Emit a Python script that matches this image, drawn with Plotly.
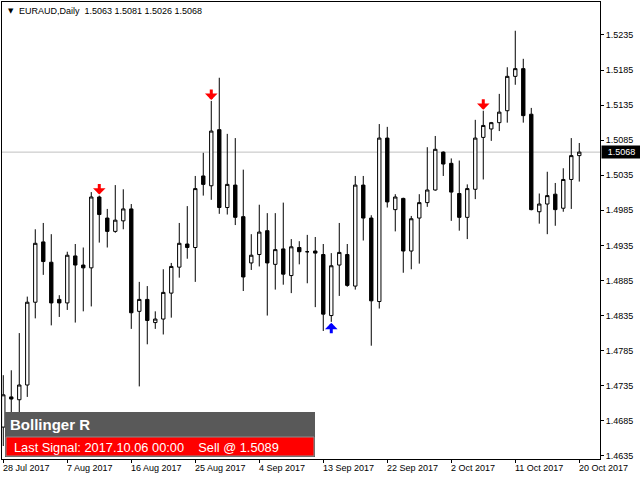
import plotly.graph_objects as go

# ---------------- data ----------------
tick_bars = [0, 8, 16, 24, 32, 40, 48, 56, 64, 72]
tick_labels = ["28 Jul 2017", "7 Aug 2017", "16 Aug 2017", "25 Aug 2017", "4 Sep 2017",
               "13 Sep 2017", "22 Sep 2017", "2 Oct 2017", "11 Oct 2017", "20 Oct 2017"]

opens = [1.4676, 1.4719, 1.4715, 1.4736, 1.4854, 1.4940, 1.4911, 1.4858, 1.4853, 1.4920,
         1.4907, 1.4903, 1.5004, 1.4974, 1.4955, 1.4970, 1.4987, 1.4841, 1.4858, 1.4825,
         1.4830, 1.4867, 1.4904, 1.4937, 1.4932, 1.5034, 1.5020, 1.5100, 1.4989, 1.5021,
         1.4976, 1.4910, 1.4922, 1.4956, 1.4908, 1.4930, 1.4892, 1.4932, 1.4926, 1.4927,
         1.4922, 1.4835, 1.4907, 1.4922, 1.4877, 1.5021, 1.4974, 1.4855, 1.5088, 1.4986,
         1.5002, 1.4927, 1.4974, 1.4996, 1.5014, 1.5068, 1.5052, 1.5009, 1.4975, 1.5015,
         1.5089, 1.5101, 1.5110, 1.5127, 1.5176, 1.5187, 1.5122, 1.4983, 1.4994, 1.5008,
         1.4988, 1.5029, 1.5063]
highs = [1.4750, 1.4757, 1.4810, 1.4862, 1.4958, 1.4967, 1.4951, 1.4864, 1.4926, 1.4937,
         1.4932, 1.5011, 1.5006, 1.4987, 1.5021, 1.5015, 1.4994, 1.4883, 1.4877, 1.4841,
         1.4901, 1.4910, 1.4967, 1.4991, 1.5034, 1.5067, 1.5141, 1.5174, 1.5094, 1.5088,
         1.5043, 1.4951, 1.4993, 1.4981, 1.4981, 1.4996, 1.4944, 1.4941, 1.4950, 1.4947,
         1.4937, 1.4924, 1.4967, 1.4937, 1.5034, 1.5034, 1.4978, 1.5108, 1.5104, 1.5008,
         1.5003, 1.4977, 1.5008, 1.5075, 1.5091, 1.5069, 1.5059, 1.5056, 1.5022, 1.5114,
         1.5127, 1.5111, 1.5151, 1.5189, 1.5241, 1.5201, 1.5131, 1.5009, 1.5040, 1.5024,
         1.5045, 1.5088, 1.5081]
lows = [1.4649, 1.4679, 1.4693, 1.4719, 1.4831, 1.4893, 1.4821, 1.4833, 1.4843, 1.4825,
        1.4841, 1.4848, 1.4939, 1.4932, 1.4953, 1.4958, 1.4816, 1.4734, 1.4794, 1.4816,
        1.4808, 1.4832, 1.4889, 1.4916, 1.4883, 1.5006, 1.5000, 1.4980, 1.4979, 1.4964,
        1.4870, 1.4900, 1.4905, 1.4835, 1.4872, 1.4879, 1.4867, 1.4908, 1.4881, 1.4847,
        1.4813, 1.4826, 1.4863, 1.4876, 1.4872, 1.4942, 1.4792, 1.4845, 1.4989, 1.4955,
        1.4896, 1.4901, 1.4909, 1.4990, 1.5013, 1.5034, 1.4970, 1.4956, 1.4944, 1.5001,
        1.5029, 1.5084, 1.5098, 1.5110, 1.5164, 1.5110, 1.4985, 1.4966, 1.4951, 1.4963,
        1.4983, 1.4987, 1.5026]
closes = [1.4722, 1.4716, 1.4736, 1.4854, 1.4938, 1.4912, 1.4853, 1.4853, 1.4921, 1.4907,
          1.4903, 1.5004, 1.4979, 1.4955, 1.4971, 1.4987, 1.4839, 1.4858, 1.4828, 1.4830,
          1.4868, 1.4905, 1.4938, 1.4932, 1.5016, 1.5022, 1.5098, 1.4989, 1.5022, 1.4975,
          1.4890, 1.4921, 1.4954, 1.4910, 1.4929, 1.4894, 1.4933, 1.4926, 1.4926, 1.4924,
          1.4837, 1.4906, 1.4925, 1.4878, 1.5021, 1.4974, 1.4856, 1.5088, 1.4997, 1.5004,
          1.4927, 1.4973, 1.4996, 1.5014, 1.5072, 1.5051, 1.5011, 1.4975, 1.5016, 1.5088,
          1.5106, 1.5110, 1.5125, 1.5176, 1.5187, 1.5120, 1.4986, 1.4994, 1.5006, 1.4986,
          1.5029, 1.5063, 1.5068]

signal_bars = [12, 26, 41, 60]
signal_kind = ["sell", "sell", "buy", "sell"]

y_ticks = [1.4635, 1.4685, 1.4735, 1.4785, 1.4835, 1.4885, 1.4935,
           1.4985, 1.5035, 1.5085, 1.5135, 1.5185, 1.5235]
y_range = [1.46305, 1.52820]
x_range = [-0.16, 74.59]

symbol_title = "EURAUD,Daily"
last_price = 1.5068
panel_title = "Bollinger R"
panel_signal = "Last Signal: 2017.10.06 00:00&nbsp;&nbsp;&nbsp;&nbsp;Sell @ 1.5089"

# ---------------- layout helpers ----------------
W, H = 640, 480
ML, MR, MT, MB = 2, 40, 2, 21
PW, PH = W - ML - MR, H - MT - MB


def px_x(p):
    return (p - ML) / PW


def px_y(p):
    return (H - MB - p) / PH


FONT = "Liberation Sans, Arial, sans-serif"

x_idx = list(range(len(opens)))

fig = go.Figure(go.Candlestick(
    x=x_idx, open=opens, high=highs, low=lows, close=closes,
    increasing=dict(line=dict(color="black", width=1), fillcolor="white"),
    decreasing=dict(line=dict(color="black", width=1), fillcolor="black"),
    whiskerwidth=0, showlegend=False,
))

annotations = []
# date labels, left-aligned at their tick like MT4
for b, t in zip(tick_bars, tick_labels):
    annotations.append(dict(x=b, y=0, xref="x", yref="paper", text=t, showarrow=False,
                            xanchor="left", yanchor="top", yshift=-2, xshift=-2,
                            font=dict(family=FONT, size=9, color="black")))

# title
ohlc_last = "%.4f %.4f %.4f %.4f" % (opens[-1], highs[-1], lows[-1], closes[-1])
annotations.append(dict(x=px_x(6), y=px_y(11), xref="paper", yref="paper", text="▼",
                        showarrow=False, xanchor="left", yanchor="middle",
                        font=dict(family="DejaVu Sans", size=7, color="black")))
annotations.append(dict(x=px_x(17), y=px_y(11), xref="paper", yref="paper",
                        text=symbol_title + "&nbsp;&nbsp;" + ohlc_last,
                        showarrow=False, xanchor="left", yanchor="middle",
                        font=dict(family=FONT, size=9, color="black")))

# signal arrows
for b, k in zip(signal_bars, signal_kind):
    if k == "sell":
        annotations.append(dict(x=b, y=highs[b], xref="x", yref="y", text="", showarrow=True,
                                ax=0, ay=-13, arrowhead=1, arrowsize=0.7, arrowwidth=3,
                                arrowcolor="#ff0000", standoff=1))
    else:
        annotations.append(dict(x=b, y=lows[b], xref="x", yref="y", text="", showarrow=True,
                                ax=0, ay=13, arrowhead=1, arrowsize=0.7, arrowwidth=3,
                                arrowcolor="#0000ff", standoff=1))

# current price label
annotations.append(dict(x=1, y=last_price, xref="paper", yref="y", text="%.4f" % last_price,
                        showarrow=False, xanchor="left", yanchor="middle", xshift=1,
                        bgcolor="black", borderpad=1, width=37, align="center",
                        font=dict(family=FONT, size=9, color="white")))

# panel texts
annotations.append(dict(x=px_x(8), y=px_y(424), xref="paper", yref="paper", text="<b>" + panel_title + "</b>",
                        showarrow=False, xanchor="left", yanchor="middle",
                        font=dict(family=FONT, size=15, color="white")))
annotations.append(dict(x=px_x(12), y=px_y(447), xref="paper", yref="paper", text=panel_signal,
                        showarrow=False, xanchor="left", yanchor="middle",
                        font=dict(family=FONT, size=12.8, color="white")))

shapes = [
    dict(type="line", xref="paper", yref="y", x0=0, x1=1, y0=last_price, y1=last_price,
         line=dict(color="#c0c0c0", width=1), layer="below"),
    dict(type="rect", xref="paper", yref="paper", x0=px_x(5), x1=px_x(315), y0=px_y(457), y1=px_y(412),
         fillcolor="#595959", line=dict(width=0), layer="above"),
    dict(type="rect", xref="paper", yref="paper", x0=px_x(6), x1=px_x(314), y0=px_y(456), y1=px_y(437),
         fillcolor="#ff0000", line=dict(color="#8c8c8c", width=1), layer="above"),
]

fig.update_layout(
    width=W, height=H,
    margin=dict(l=ML, r=MR, t=MT, b=MB, pad=0),
    paper_bgcolor="white", plot_bgcolor="white",
    showlegend=False,
    annotations=annotations, shapes=shapes,
    boxgap=0.4,
    xaxis=dict(range=x_range, tickvals=tick_bars, ticks="outside", ticklen=3, tickcolor="black",
               showticklabels=False, showgrid=False, zeroline=False, showline=True,
               linecolor="black", linewidth=1, mirror=True, rangeslider=dict(visible=False),
               fixedrange=True),
    yaxis=dict(side="right", range=y_range, tickvals=y_ticks, tickformat=".4f", ticks="outside",
               ticklen=3, tickcolor="black", tickfont=dict(family=FONT, size=9, color="black"),
               showgrid=False, zeroline=False, showline=True, linecolor="black", linewidth=1,
               mirror=True, fixedrange=True),
)

fig.write_html("out.html", config={"displayModeBar": False},
               post_script="document.body.style.margin='0px';")
